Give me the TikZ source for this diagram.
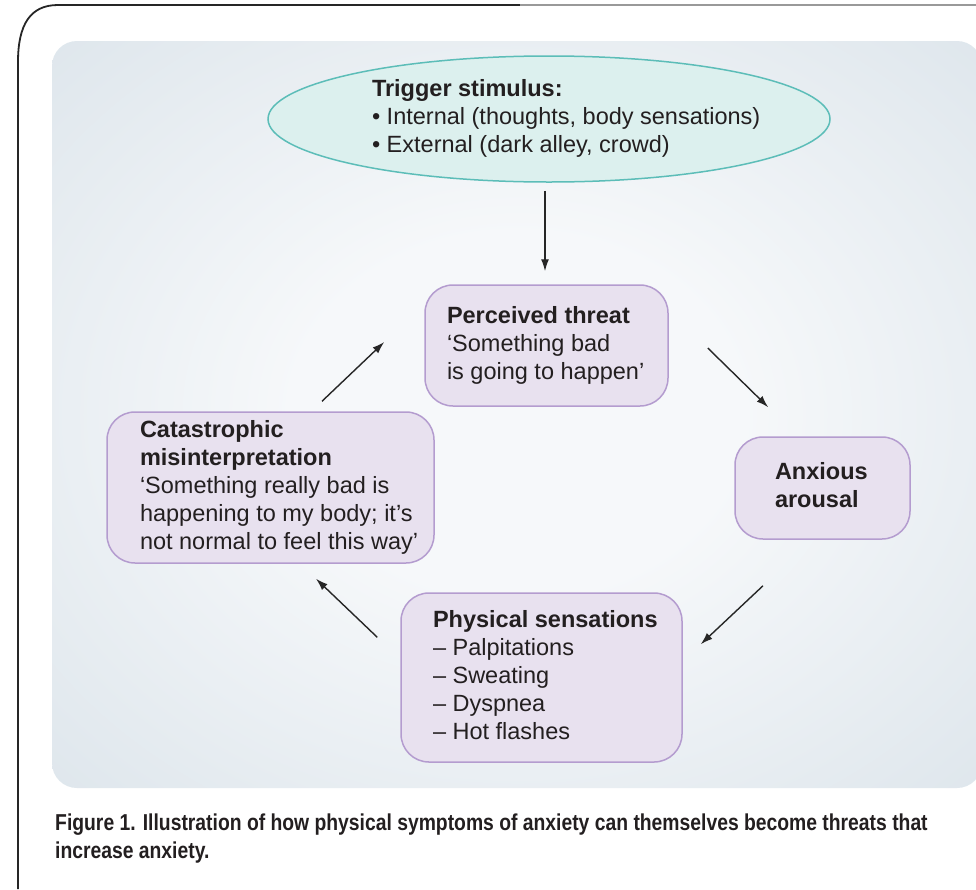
\documentclass[tikz,border=0pt]{standalone}
\usepackage{fontspec}
\setmainfont{Liberation Sans}
\newfontfamily\capfont[FakeStretch=0.84]{Liberation Sans}
\usetikzlibrary{arrows.meta,shapes.geometric,calc}
\definecolor{pedge}{HTML}{D2DDE5}
\definecolor{pcenter}{HTML}{F6F8FA}
\definecolor{boxfill}{HTML}{E8E1EF}
\definecolor{boxline}{HTML}{B49CCF}
\definecolor{ellfill}{HTML}{DCF0EE}
\definecolor{ellline}{HTML}{5CBDB8}
\definecolor{txt}{HTML}{231F20}
\pgfdeclareradialshading{panelshade}{\pgfpoint{0bp}{0bp}}{color(0bp)=(pcenter);color(12bp)=(pcenter);color(48bp)=(pedge);color(50bp)=(pedge)}
\newcommand\boxtext[2]{\makebox[#1][l]{\begin{tabular}{@{}l@{}}#2\end{tabular}}}
\begin{document}
\begin{tikzpicture}[x=1pt,y=-1pt,
  font=\fontsize{23.5}{28}\selectfont, text=txt,
  box/.style={draw=boxline, fill=boxfill, line width=1.5pt, rounded corners=28pt, inner ysep=0pt},
  trigshape/.style={ellipse, draw=ellline, fill=ellfill, line width=1.5pt, inner sep=0pt},
  arr/.style={draw=black!85, line width=1.4pt, -{Latex[length=12pt,width=8pt]}},
  framedark/.style={draw=black!85, line width=1.8pt},
  framegrey/.style={draw=black!40, line width=1.8pt}]
\useasboundingbox (0,0) rectangle (976,889);
\fill[white] (0,0) rectangle (976,889);
% outer frame
\draw[framedark] (18,889) -- (18,62) .. controls (18,25) and (30,5) .. (58,5) -- (520,5);
\draw[framegrey] (520,5) -- (976,5);
% panel
\shade[shading=panelshade, rounded corners=25pt] (52,41) rectangle (982,788);
% trigger ellipse
\node[trigshape, minimum width=562pt, minimum height=126pt] (trig) at (549,119)
  {\makebox[0pt][l]{\hspace*{-177pt}\begin{tabular}{@{}l@{}}\textbf{Trigger stimulus:}\\• Internal (thoughts, body sensations)\\• External (dark alley, crowd)\end{tabular}}};
% boxes
\node[box, minimum width=243pt, minimum height=121pt, inner xsep=22pt] (pt) at (546.5,345.5)
  {\boxtext{199pt}{\textbf{Perceived threat}\\‘Something bad\\is going to happen’}};
\node[box, minimum width=175pt, minimum height=102pt, inner xsep=40pt] (ax) at (822.5,488)
  {\boxtext{95pt}{\textbf{Anxious}\\\textbf{arousal}}};
\node[box, minimum width=281pt, minimum height=169pt, inner xsep=32pt] (ps) at (541.5,677.5)
  {\boxtext{217pt}{\textbf{Physical sensations}\\– Palpitations\\– Sweating\\– Dyspnea\\– Hot flashes}};
\node[box, minimum width=327pt, minimum height=151pt, inner xsep=33pt] (cat) at (270.5,487.5)
  {\boxtext{261pt}{\textbf{Catastrophic}\\\textbf{misinterpretation}\\‘Something really bad is\\happening to my body; it’s\\not normal to feel this way’}};
% connectors
\draw[arr] ([shift={(-4,8)}]trig.south) -- ([shift={(-1.5,-13)}]pt.north);
\draw[arr] ([shift={(39,2.5)}]pt.east) -- ([shift={(34,-29)}]ax.north west);
\draw[arr] ([shift={(-59.5,46)}]ax.south) -- ([shift={(18,52)}]ps.north east);
\draw[arr] ([shift={(-23,45)}]ps.north west) -- ([shift={(45.5,15)}]cat.south);
\draw[arr] ([shift={(51.5,-10)}]cat.north) -- ([shift={(-40,-3.5)}]pt.west);
% caption
\node[anchor=base west, inner sep=0pt, font=\capfont\bfseries\fontsize{23}{28}\selectfont] (cap) at (55,830)
  {\begin{tabular}[t]{@{}l@{}}Figure 1. Illustration of how physical symptoms of anxiety can themselves become threats that\\increase anxiety.\end{tabular}};
\end{tikzpicture}
\end{document}
